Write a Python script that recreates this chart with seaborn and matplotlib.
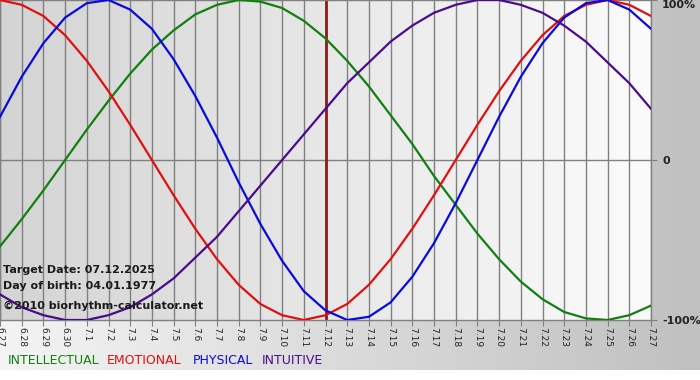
import numpy as np
import pandas as pd
import seaborn as sns
import matplotlib.pyplot as plt
from matplotlib.colors import LinearSegmentedColormap

# day labels along the bottom (month.day)
days = ["6.27", "6.28", "6.29", "6.30", "7.1", "7.2", "7.3", "7.4", "7.5", "7.6", "7.7",
        "7.8", "7.9", "7.10", "7.11", "7.12", "7.13", "7.14", "7.15", "7.16", "7.17",
        "7.18", "7.19", "7.20", "7.21", "7.22", "7.23", "7.24", "7.25", "7.26", "7.27"]
target_day = "7.12"

# cycle values in percent, one per day
intellectual = [-54, -37, -19, 0, 19, 37, 54, 69, 81, 91, 97, 100, 99, 95, 87, 76, 62, 46, 28, 10,
                -10, -28, -46, -62, -76, -87, -95, -99, -100, -97, -91]
emotional = [100, 97, 90, 78, 62, 43, 22, 0, -22, -43, -62, -78, -90, -97, -100, -97, -90, -78, -62,
             -43, -22, 0, 22, 43, 62, 78, 90, 97, 100, 97, 90]
physical = [27, 52, 73, 89, 98, 100, 94, 82, 63, 40, 14, -14, -40, -63, -82, -94, -100, -98, -89,
            -73, -52, -27, 0, 27, 52, 73, 89, 98, 100, 94, 82]
intuitive = [-84, -92, -97, -100, -100, -97, -92, -84, -74, -61, -48, -32, -16, 0, 16, 32, 48, 61,
             74, 84, 92, 97, 100, 100, 97, 92, 84, 74, 61, 48, 32]

cycles = ["INTELLECTUAL", "EMOTIONAL", "PHYSICAL", "INTUITIVE"]
colors = {"INTELLECTUAL": "#118011", "EMOTIONAL": "#e01010", "PHYSICAL": "#0a0adc", "INTUITIVE": "#4a0c8a"}

frames = []
for name, vals in zip(cycles, [intellectual, emotional, physical, intuitive]):
    frames.append(pd.DataFrame({"day": np.arange(len(days)), "value": vals, "cycle": name}))
df = pd.concat(frames, ignore_index=True)

fig = plt.figure(figsize=(7, 3.8), dpi=100)

# page background: light on the left, grey on the right, white strip at the bottom
bg = fig.add_axes([0, 0, 1, 1])
bg_cmap = LinearSegmentedColormap.from_list("bg", ["#f4f4f4", "#c0c0c0"])
bg.imshow(np.linspace(0, 1, 256)[None, :], extent=[0, 1, 10 / 380, 1], aspect="auto", cmap=bg_cmap)
bg.set_xlim(0, 1)
bg.set_ylim(0, 1)
bg.axis("off")

ax = fig.add_axes([0, 60 / 380, 651 / 700, 320 / 380])
ax_cmap = LinearSegmentedColormap.from_list("plot", ["#d4d4d4", "#fbfbfb"])
ax.imshow(np.linspace(0, 1, 256)[None, :], extent=[0, len(days) - 1, -100, 100], aspect="auto",
          cmap=ax_cmap, zorder=0)

ax.grid(axis="x", color="#808080", lw=1, zorder=1)
ax.set_axisbelow(True)
ax.axhline(0, color="#808080", lw=1, zorder=1)
ax.axvline(days.index(target_day), color="#8b1c1c", lw=2, zorder=2)

sns.lineplot(data=df, x="day", y="value", hue="cycle", palette=colors, hue_order=cycles,
             legend=False, linewidth=1.6, ax=ax, zorder=3)
for line in ax.get_lines():
    line.set_solid_joinstyle("round")

ax.set_xlim(0, len(days) - 1)
ax.set_ylim(-100, 100)
ax.set_xlabel("")
ax.set_ylabel("")
ax.set_xticks(range(len(days)))
ax.set_xticklabels(days)
ax.tick_params(axis="x", length=4, color="#808080", labelsize=6.5, labelrotation=270,
               labelcolor="#222222", pad=1)

ax.yaxis.tick_right()
ax.set_yticks([100, 0, -100])
ax.set_yticklabels(["100%", "0", "-100%"], fontsize=8, fontweight="bold", color="#222222")
ax.tick_params(axis="y", length=4, color="#808080", pad=4)
ax.get_yticklabels()[0].set_va("top")

for side in ["top", "bottom", "right", "left"]:
    ax.spines[side].set_color("#808080")
    ax.spines[side].set_linewidth(1)

# info text in the lower left of the plot
info = ["Target Date: 07.12.2025", "Day of birth: 04.01.1977", "\u00a92010 biorhythm-calculator.net"]
for txt, ypix in zip(info, [270, 286, 306]):
    fig.text(3 / 700, 1 - ypix / 380, txt, fontsize=8, fontweight="bold", color="#1a1a1a",
             va="center", ha="left")

# coloured legend words at the bottom
for name, xpix in zip(cycles, [8, 107, 193, 262]):
    fig.text(xpix / 700, 1 - 361 / 380, name, fontsize=9, color=colors[name], va="center", ha="left")

fig.savefig("out.png", dpi=100)
